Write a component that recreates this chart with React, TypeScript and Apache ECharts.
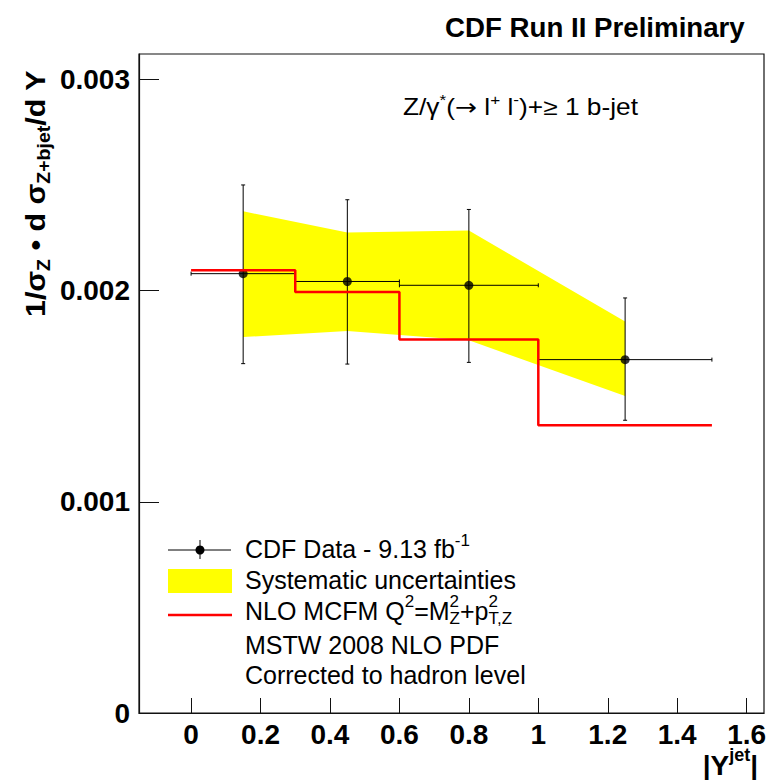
import React, { useEffect, useRef } from "react";
import * as echarts from "echarts";

// ---- data ----
const BIN_EDGES = [0, 0.3, 0.6, 1.0, 1.5];
const DATA_X = [0.15, 0.45, 0.8, 1.25];
const DATA_Y = [0.00208, 0.002043, 0.002025, 0.001673];
const STAT_HI = [0.0025, 0.00243, 0.002384, 0.001965];
const STAT_LO = [0.001654, 0.001652, 0.00166, 0.001386];
const SYST_HI = [0.002375, 0.002275, 0.002284, 0.001854];
const SYST_LO = [0.00178, 0.001809, 0.001765, 0.001501];
const NLO = [0.002096, 0.001993, 0.001768, 0.001362];
const X_TICKS = [0, 0.2, 0.4, 0.6, 0.8, 1.0, 1.2, 1.4, 1.6];
const X_TICK_LABELS = ["0", "0.2", "0.4", "0.6", "0.8", "1", "1.2", "1.4", "1.6"];
const Y_TICKS = [0, 0.001, 0.002, 0.003];
const Y_TICK_LABELS = ["0", "0.001", "0.002", "0.003"];

const FAMILY = '"Liberation Sans", Arial, Helvetica, sans-serif';
const ARROW_FAMILY = '"DejaVu Sans", sans-serif';

type Seg = { t: string; k?: "sup" | "sub"; st?: boolean; f?: string };

function makeMeasure() {
  const c = document.createElement("canvas");
  const ctx = c.getContext("2d")!;
  return (text: string, font: string) => {
    ctx.font = font;
    return ctx.measureText(text).width;
  };
}

function buildRich(
  segs: Seg[],
  size: number,
  weight: string,
  fill: string,
  measure: (t: string, f: string) => number
) {
  const children: any[] = [];
  let x = 0;
  let scriptStart = 0;
  let scriptW = 0;
  for (const s of segs) {
    const sz = s.k ? Math.round(size * 0.66) : size;
    const font = `${weight} ${sz}px ${s.f || FAMILY}`;
    const w = measure(s.t, font);
    let px = x;
    if (s.st) {
      px = scriptStart;
      x = scriptStart + Math.max(scriptW, w);
    } else {
      if (s.k) {
        scriptStart = x;
        scriptW = w;
      }
      x += w;
    }
    const dy = s.k === "sup" ? -0.36 * size : s.k === "sub" ? 0.32 * size : 0;
    children.push({
      type: "text",
      x: px,
      y: dy,
      style: { text: s.t, font, fill, align: "left", verticalAlign: "middle", lineHeight: s.k ? sz - 4 : sz - 2 },
    });
  }
  return { children, width: x };
}

function nearestLabel(v: number, ticks: number[], labels: string[]) {
  let best = 0;
  for (let i = 1; i < ticks.length; i++) {
    if (Math.abs(ticks[i] - v) < Math.abs(ticks[best] - v)) best = i;
  }
  return labels[best];
}

export default function App() {
  const ref = useRef<HTMLDivElement>(null);
  useEffect(() => {
    if (!ref.current) return;
    const chart = echarts.init(ref.current, null, { renderer: "svg" });
    const measure = makeMeasure();

    const yTitle = buildRich(
      [{ t: "1/σ" }, { t: "Z", k: "sub" }, { t: " • d σ" }, { t: "Z+bjet", k: "sub" }, { t: "/d Y" }],
      28, "bold", "#000", measure
    );
    const xTitle = buildRich([{ t: "|Y" }, { t: "jet", k: "sup" }, { t: "|" }], 28, "bold", "#000", measure);
    const title = buildRich([{ t: "CDF Run II Preliminary" }], 27, "bold", "#000", measure);
    const annot = buildRich(
      [
        { t: "Z/γ" }, { t: "*", k: "sup" }, { t: "(" }, { t: "→", f: ARROW_FAMILY }, { t: " l" }, { t: "+", k: "sup" },
        { t: " l" }, { t: "-", k: "sup" }, { t: ")+≥ 1 b-jet" },
      ],
      23, "normal", "#000", measure
    );
    const leg1 = buildRich([{ t: "CDF Data - 9.13 fb" }, { t: "-1", k: "sup" }], 25, "normal", "#000", measure);
    const leg2 = buildRich([{ t: "Systematic uncertainties" }], 25, "normal", "#000", measure);
    const leg3 = buildRich(
      [
        { t: "NLO MCFM Q" }, { t: "2", k: "sup" }, { t: "=M" }, { t: "2", k: "sup" }, { t: "Z", k: "sub", st: true },
        { t: "+p" }, { t: "2", k: "sup" }, { t: "T,Z", k: "sub", st: true },
      ],
      25, "normal", "#000", measure
    );
    const leg4 = buildRich([{ t: "MSTW 2008 NLO PDF" }], 25, "normal", "#000", measure);
    const leg5 = buildRich([{ t: "Corrected to hadron level" }], 25, "normal", "#000", measure);

    const yTitleScale = 247 / yTitle.width;
    const titleScale = 300 / title.width;
    const annotScale = 235 / annot.width;

    const errData = DATA_X.map((x, i) => [x, DATA_Y[i], BIN_EDGES[i], BIN_EDGES[i + 1], STAT_LO[i], STAT_HI[i]]);
    const nloData = BIN_EDGES.map((x, i) => [x, NLO[Math.min(i, NLO.length - 1)]]);

    const option: any = {
      animation: false,
      backgroundColor: "#fff",
      grid: {
        left: 139, top: 54, width: 625, height: 659,
        show: true, borderColor: "#111", borderWidth: 1.2, backgroundColor: "transparent",
        containLabel: false, outerBoundsMode: "none",
      },
      xAxis: {
        type: "value", min: -0.15, max: 1.65,
        axisLine: { show: true, onZero: false, lineStyle: { color: "#111", width: 1.2 } },
        axisTick: { show: true, inside: true, length: 15, customValues: X_TICKS, lineStyle: { color: "#111", width: 1 } },
        axisLabel: {
          show: true, customValues: X_TICKS, margin: 8, lineHeight: 26, color: "#000", fontSize: 28, fontWeight: "bold", fontFamily: FAMILY,
          formatter: (v: number) => nearestLabel(v, X_TICKS, X_TICK_LABELS),
        },
        splitLine: { show: false },
      },
      yAxis: {
        type: "value", min: 0, max: 0.00312,
        axisLine: { show: true, onZero: false, lineStyle: { color: "#111", width: 1.2 } },
        axisTick: { show: true, inside: true, length: 20, customValues: Y_TICKS, lineStyle: { color: "#111", width: 1 } },
        axisLabel: {
          show: true, customValues: Y_TICKS, margin: 9, color: "#000", fontSize: 28, fontWeight: "bold", fontFamily: FAMILY,
          formatter: (v: number) => nearestLabel(v, Y_TICKS, Y_TICK_LABELS),
        },
        splitLine: { show: false },
      },
      series: [
        {
          type: "custom", name: "syst", z: 1, silent: true,
          data: [[DATA_X[0], SYST_HI[0]]],
          renderItem: (_p: any, api: any) => {
            const pts: number[][] = [];
            DATA_X.forEach((x, i) => pts.push(api.coord([x, SYST_HI[i]])));
            for (let i = DATA_X.length - 1; i >= 0; i--) pts.push(api.coord([DATA_X[i], SYST_LO[i]]));
            return { type: "polygon", shape: { points: pts }, style: { fill: "#ffff00", stroke: "none" } };
          },
        },
        {
          type: "custom", name: "err", z: 2, silent: true,
          data: errData,
          encode: { x: [0, 2, 3], y: [1, 4, 5] },
          renderItem: (_p: any, api: any) => {
            const c = api.coord([api.value(0), api.value(1)]);
            const l = api.coord([api.value(2), api.value(1)]);
            const r = api.coord([api.value(3), api.value(1)]);
            const lo = api.coord([api.value(0), api.value(4)]);
            const hi = api.coord([api.value(0), api.value(5)]);
            const st = { stroke: "#000", lineWidth: 1 };
            const cap = 2;
            return {
              type: "group",
              children: [
                { type: "line", shape: { x1: l[0], y1: c[1], x2: r[0], y2: c[1] }, style: st },
                { type: "line", shape: { x1: c[0], y1: lo[1], x2: c[0], y2: hi[1] }, style: st },
                { type: "line", shape: { x1: l[0], y1: c[1] - cap, x2: l[0], y2: c[1] + cap }, style: st },
                { type: "line", shape: { x1: r[0], y1: c[1] - cap, x2: r[0], y2: c[1] + cap }, style: st },
                { type: "line", shape: { x1: c[0] - cap, y1: lo[1], x2: c[0] + cap, y2: lo[1] }, style: st },
                { type: "line", shape: { x1: c[0] - cap, y1: hi[1], x2: c[0] + cap, y2: hi[1] }, style: st },
              ],
            };
          },
        },
        {
          type: "scatter", name: "data", z: 3, silent: true,
          symbol: "circle", symbolSize: 9, itemStyle: { color: "#000" },
          data: DATA_X.map((x, i) => [x, DATA_Y[i]]),
        },
        {
          type: "line", name: "nlo", z: 4, silent: true, step: "end", showSymbol: false, symbol: "none",
          lineStyle: { color: "#ff0000", width: 2.5 },
          data: nloData,
        },
      ],
      graphic: [
        { type: "group", x: 35, y: 317, rotation: Math.PI / 2, scaleX: yTitleScale, children: yTitle.children },
        { type: "group", x: 758 - xTitle.width, y: 765, children: xTitle.children },
        { type: "group", x: 745 - title.width * titleScale, y: 27.5, scaleX: titleScale, children: title.children },
        { type: "group", x: 403, y: 107.5, scaleX: annotScale, children: annot.children },
        // legend
        { type: "line", shape: { x1: 168, y1: 550, x2: 231, y2: 550 }, style: { stroke: "#000", lineWidth: 1 } },
        { type: "line", shape: { x1: 200, y1: 540, x2: 200, y2: 559 }, style: { stroke: "#000", lineWidth: 1 } },
        { type: "circle", shape: { cx: 200, cy: 550, r: 4.5 }, style: { fill: "#000" } },
        { type: "rect", shape: { x: 168, y: 569, width: 64, height: 24 }, style: { fill: "#ffff00" } },
        { type: "line", shape: { x1: 168, y1: 615, x2: 232, y2: 615 }, style: { stroke: "#ff0000", lineWidth: 2.5 } },
        { type: "group", x: 245, y: 549, children: leg1.children },
        { type: "group", x: 245, y: 580, children: leg2.children },
        { type: "group", x: 245, y: 610.5, children: leg3.children },
        { type: "group", x: 245, y: 644.5, children: leg4.children },
        { type: "group", x: 245, y: 675, children: leg5.children },
      ],
    };
    chart.setOption(option);
    return () => chart.dispose();
  }, []);
  return <div ref={ref} style={{ position: "fixed", left: 0, top: 0, width: 771, height: 780 }} />;
}
